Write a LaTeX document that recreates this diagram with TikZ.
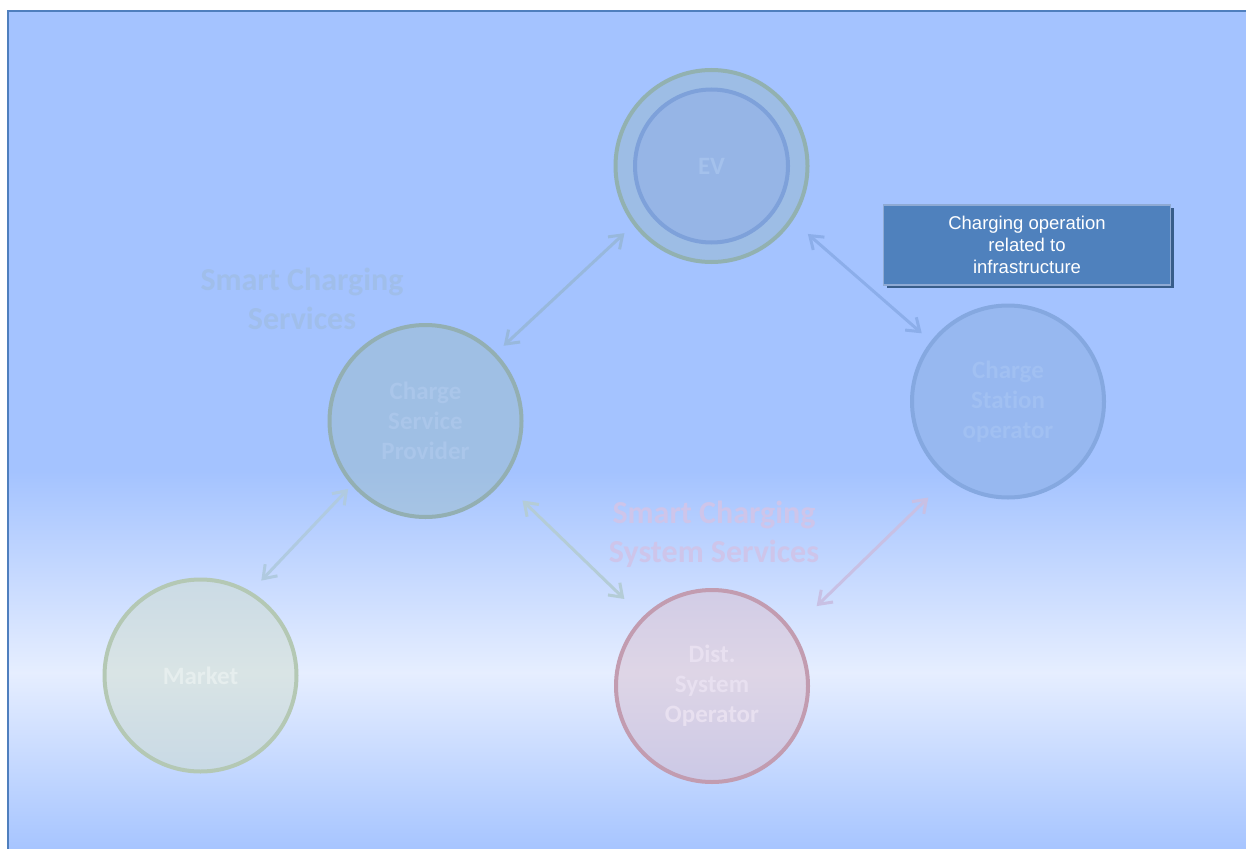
\documentclass[tikz,border=0pt]{standalone}
\usepackage{fontspec}
\setmainfont{Carlito}[Ligatures=NoCommon]
\newfontfamily\boxfont{Liberation Sans}
\usetikzlibrary{arrows.meta,shadows}
\definecolor{bgblue}{HTML}{A4C3FF}
\definecolor{bglight}{HTML}{E6EEFF}
\definecolor{bgbottom}{HTML}{A7C5FF}
\definecolor{frameblue}{HTML}{4F7FBE}
\definecolor{evring}{HTML}{92B1B0}
\definecolor{evouter}{HTML}{9DBDE5}
\definecolor{evinner}{HTML}{7EA1DA}
\definecolor{evfill}{HTML}{96B5E6}
\definecolor{evtext}{HTML}{A4C1EC}
\definecolor{cspline}{HTML}{93AFB2}
\definecolor{cspfill}{HTML}{9CBDCB}
\definecolor{csptext}{HTML}{AAC6EA}
\definecolor{csoline}{HTML}{85A8E0}
\definecolor{csofill}{HTML}{97B8F0}
\definecolor{csotext}{HTML}{A1C0F2}
\definecolor{mktline}{HTML}{B4C8B4}
\definecolor{mktfill}{HTML}{CEDCCD}
\definecolor{mkttext}{HTML}{E6EEEE}
\definecolor{dsoline}{HTML}{C29CB0}
\definecolor{dsofill}{HTML}{D8BECF}
\definecolor{dsotext}{HTML}{E8E0F0}
\definecolor{scstext}{HTML}{A0BEEA}
\definecolor{scsstext}{HTML}{CEC5EA}
\definecolor{boxfill}{HTML}{4F81BD}
\definecolor{boxedge}{HTML}{8EAAD4}
\definecolor{boxshade}{HTML}{385D8A}
\definecolor{lnkevcsp}{HTML}{98B8DC}
\definecolor{lnkevcso}{HTML}{8CAEEA}
\definecolor{lnkcspmkt}{HTML}{B0CAE0}
\definecolor{lnkcspdso}{HTML}{B4CCD6}
\definecolor{lnkcsodso}{HTML}{C8C0E4}
\begin{document}
\begin{tikzpicture}[x=1pt,y=-1pt,
	actor/.style={circle,minimum size=192pt,inner sep=0pt,line width=4pt,align=center,font=\fontsize{25}{30}\selectfont\bfseries},
	see/.style={fill opacity=0.5,text opacity=1},
	group/.style={align=center,font=\fontsize{32}{39}\selectfont\bfseries},
	infobox/.style={rectangle,fill=boxfill,draw=boxedge,line width=1.5pt,minimum width=287pt,minimum height=80pt,text=white,align=center,font=\boxfont\fontsize{18.5}{22}\selectfont,drop shadow={shadow xshift=3pt,shadow yshift=-3pt,fill=boxshade,opacity=1}},
	link/.style={{Straight Barb[length=12pt,width=17pt]}-{Straight Barb[length=12pt,width=17pt]},line width=3pt}]
		\useasboundingbox (0,0) rectangle (1246,848);
		\begin{scope}
			\clip (0,0) rectangle (1246,848);
			\fill [bgblue] (8,11) rectangle (1246,472);
			\shade [top color=bgblue,bottom color=bglight] (8,471) rectangle (1246,673);
			\shade [top color=bglight,bottom color=bgbottom] (8,672) rectangle (1246,848);
			\draw [frameblue,line width=2pt] (7.5,850) -- (7.5,11) -- (1248,11);
		\end{scope}
		\node [group,text=scstext] (scs) at (302,299) {Smart Charging\\Services};
		\node [group,text=scsstext] (scss) at (714,534) {Smart Charging\\System Services};
		\node [actor,draw=evring,fill=evouter] (ev) at (711.5,166) {};
		\node [actor,minimum size=153pt,draw=evinner,fill=evfill,text=evtext] (evcore) at (ev) {EV};
		\node [actor,see,draw=cspline,fill=cspfill,text=csptext] (csp) at (425.5,421) {Charge\\Service\\Provider};
		\node [actor,draw=csoline,fill=csofill,text=csotext] (cso) at (1008,401.5) {Charge\\Station\\operator};
		\node [actor,see,draw=mktline,fill=mktfill,text=mkttext] (mkt) at (200.5,675.5) {Market};
		\node [actor,see,draw=dsoline,fill=dsofill,text=dsotext] (dso) at (712,686) {Dist.\\System\\Operator};
		\node [infobox] (note) at (1027,245) {Charging operation\\related to\\infrastructure};
		\draw [link,lnkevcsp,shorten <=12pt,shorten >=10.5pt] (ev.217.4) -- (csp.44.4);
		\draw [link,lnkevcso,shorten <=20pt,shorten >=12pt] (ev.-34.5) -- (cso.142.2);
		\draw [link,lnkcspmkt,shorten <=5pt,shorten >=15pt] (csp.221.3) -- (mkt.59.5);
		\draw [link,lnkcspdso,shorten <=27.5pt,shorten >=25.5pt] (csp.-38.4) -- (dso.135.5);
		\draw [link,lnkcsodso,shorten <=27pt,shorten >=34pt] (cso.-128.7) -- (dso.35.9);
\end{tikzpicture}
\end{document}
